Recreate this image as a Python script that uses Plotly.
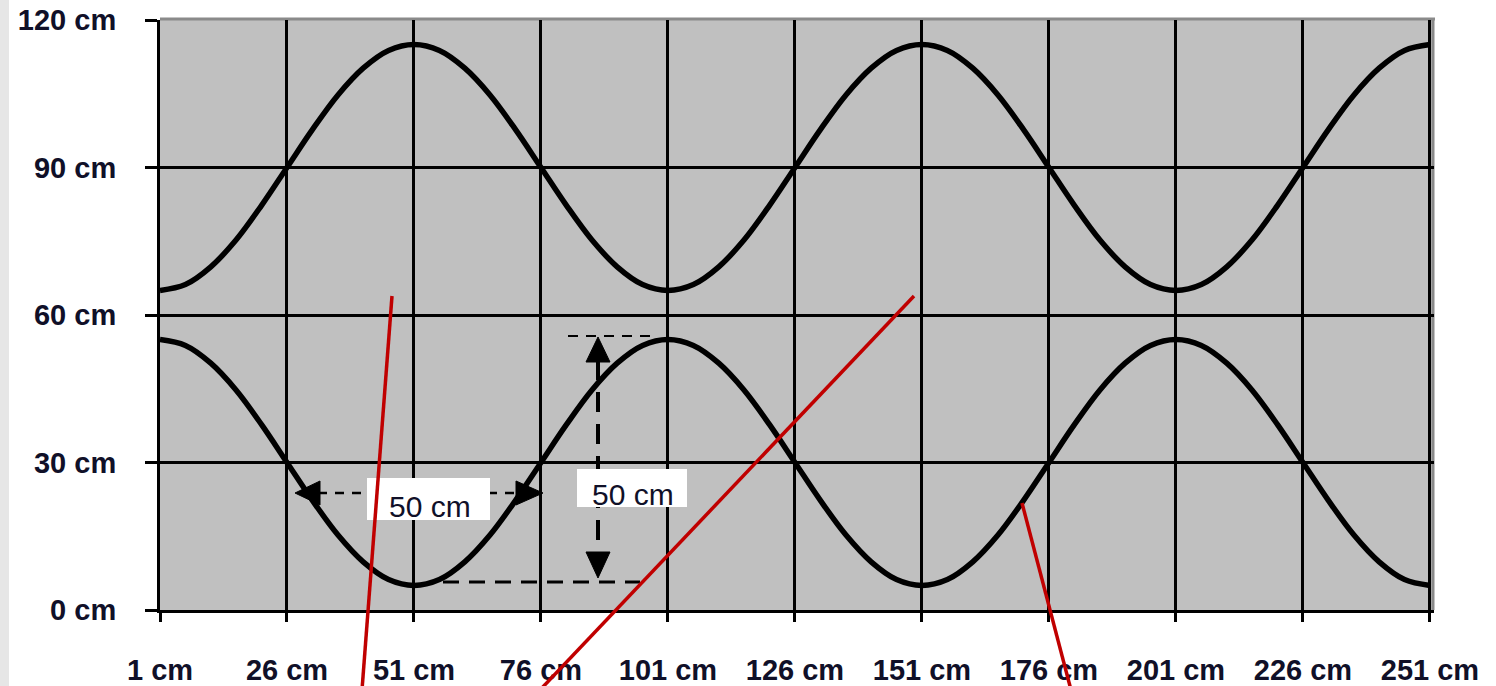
import plotly.graph_objects as go

# ---- data ----
x_cm = [1, 6, 11, 16, 21, 26, 31, 36, 41, 46, 51, 56, 61, 66, 71, 76, 81, 86, 91, 96,
        101, 106, 111, 116, 121, 126, 131, 136, 141, 146, 151, 156, 161, 166, 171, 176,
        181, 186, 191, 196, 201, 206, 211, 216, 221, 226, 231, 236, 241, 246, 251]
upper_wave = [65, 66.2, 69.8, 75.3, 82.3, 90, 97.7, 104.7, 110.2, 113.8,
              115, 113.8, 110.2, 104.7, 97.7, 90, 82.3, 75.3, 69.8, 66.2,
              65, 66.2, 69.8, 75.3, 82.3, 90, 97.7, 104.7, 110.2, 113.8,
              115, 113.8, 110.2, 104.7, 97.7, 90, 82.3, 75.3, 69.8, 66.2,
              65, 66.2, 69.8, 75.3, 82.3, 90, 97.7, 104.7, 110.2, 113.8, 115]
lower_wave = [55, 53.8, 50.2, 44.7, 37.7, 30, 22.3, 15.3, 9.8, 6.2,
              5, 6.2, 9.8, 15.3, 22.3, 30, 37.7, 44.7, 50.2, 53.8,
              55, 53.8, 50.2, 44.7, 37.7, 30, 22.3, 15.3, 9.8, 6.2,
              5, 6.2, 9.8, 15.3, 22.3, 30, 37.7, 44.7, 50.2, 53.8,
              55, 53.8, 50.2, 44.7, 37.7, 30, 22.3, 15.3, 9.8, 6.2, 5]
x_ticks = [1, 26, 51, 76, 101, 126, 151, 176, 201, 226, 251]
x_tick_labels = ["1 cm", "26 cm", "51 cm", "76 cm", "101 cm", "126 cm",
                 "151 cm", "176 cm", "201 cm", "226 cm", "251 cm"]
y_ticks = [0, 30, 60, 90, 120]
y_tick_labels = ["0 cm", "30 cm", "60 cm", "90 cm", "120 cm"]
label_text = "50 cm"

# ---- layout geometry ----
W, H = 1496, 686
L, R, T, B = 160, 62, 20, 76
PW, PH = W - L - R, H - T - B
XMIN, XMAX = 1, 251.8
YMIN, YMAX = 0, 120


def px2x(px):
    return XMIN + (px - L) / PW * (XMAX - XMIN)


def py2y(py):
    return YMIN + (T + PH - py) / PH * (YMAX - YMIN)


def ppx(px):
    return (px - L) / PW


def ppy(py):
    return (T + PH - py) / PH


TXT = "#101028"
fig = go.Figure()
for ys in (upper_wave, lower_wave):
    fig.add_trace(go.Scatter(x=x_cm, y=ys, mode="lines",
                             line=dict(color="black", width=5.5, shape="spline", smoothing=1.0),
                             hoverinfo="skip", showlegend=False, cliponaxis=False))

shapes = []
# light strip on the left edge
shapes.append(dict(type="rect", xref="paper", yref="paper", x0=ppx(0), x1=ppx(9),
                   y0=ppy(H), y1=ppy(0), fillcolor="#e6e6e6", line=dict(width=0), layer="below"))
# gray top/right border of plot
shapes.append(dict(type="line", xref="paper", yref="paper", x0=0, x1=ppx(1435), y0=ppy(19), y1=ppy(19),
                   line=dict(color="#8a8a8a", width=3), layer="below"))
shapes.append(dict(type="line", xref="paper", yref="paper", x0=ppx(1433), x1=ppx(1433), y0=ppy(19), y1=0,
                   line=dict(color="#8a8a8a", width=3), layer="below"))


def dline(x0, y0, x1, y1, w, dash):
    shapes.append(dict(type="line", xref="x", yref="y", x0=px2x(x0), y0=py2y(y0),
                       x1=px2x(x1), y1=py2y(y1), line=dict(color="black", width=w, dash=dash)))


def tri(pts):
    path = "M " + " L ".join(f"{px2x(a)},{py2y(b)}" for a, b in pts) + " Z"
    shapes.append(dict(type="path", xref="x", yref="y", path=path,
                       fillcolor="black", line=dict(color="black", width=1)))


dline(318, 493, 516, 493, 2.5, "9px,8px")
tri([(295, 493), (320, 481), (320, 505)])
tri([(543, 493), (516, 481), (516, 505)])
dline(568, 336, 650, 336, 2, "10px,8px")
dline(443, 582, 640, 582, 3, "16px,10px")
dline(598, 360, 598, 552, 4, "20px,12px")
tri([(598, 337), (586, 362), (610, 362)])
tri([(598, 578), (586, 552), (610, 552)])

# white label boxes
shapes.append(dict(type="rect", xref="x", yref="y", x0=px2x(367), x1=px2x(490),
                   y0=py2y(520), y1=py2y(478), fillcolor="white", line=dict(width=0)))
shapes.append(dict(type="rect", xref="x", yref="y", x0=px2x(577), x1=px2x(687),
                   y0=py2y(507), y1=py2y(469), fillcolor="white", line=dict(width=0)))

# red pointer lines
for (a, b, c, d) in [(392, 296, 362, 690), (914, 296, 540, 690), (1022, 503, 1071, 690)]:
    shapes.append(dict(type="line", xref="paper", yref="paper", x0=ppx(a), y0=ppy(b),
                       x1=ppx(c), y1=ppy(d), line=dict(color="#c00000", width=3.5)))

annotations = [
    dict(x=px2x(430), y=py2y(506), xref="x", yref="y", text=label_text, showarrow=False,
         font=dict(family="Liberation Sans, Arial", size=30, color=TXT)),
    dict(x=px2x(633), y=py2y(494), xref="x", yref="y", text=label_text, showarrow=False,
         font=dict(family="Liberation Sans, Arial", size=30, color=TXT)),
]

fig.update_layout(
    width=W, height=H,
    margin=dict(l=L, r=R, t=T, b=B, pad=0, autoexpand=False),
    paper_bgcolor="white", plot_bgcolor="#c0c0c0",
    shapes=shapes, annotations=annotations, showlegend=False,
    font=dict(family="Liberation Sans, Arial", color=TXT),
)
fig.update_xaxes(range=[XMIN, XMAX], tickvals=x_ticks, ticktext=x_tick_labels,
                 automargin=False,
                 showgrid=True, gridcolor="black", gridwidth=3, zeroline=False,
                 showline=True, linecolor="black", linewidth=3,
                 ticks="outside", ticklen=9, tickwidth=3, tickcolor="black",
                 ticklabelstandoff=23,
                 tickfont=dict(family="Liberation Sans, Arial", size=29, color=TXT, weight="bold"))
fig.update_yaxes(range=[YMIN, YMAX], tickvals=y_ticks, ticktext=y_tick_labels,
                 automargin=False,
                 showgrid=True, gridcolor="black", gridwidth=3, zeroline=False,
                 showline=True, linecolor="black", linewidth=3,
                 ticks="outside", ticklen=12, tickwidth=3, tickcolor="black",
                 ticklabelstandoff=23,
                 tickfont=dict(family="Liberation Sans, Arial", size=29, color=TXT, weight="bold"))

fig.write_html("out.html", config={"displayModeBar": False},
               post_script="document.body.style.margin='0';document.body.style.overflow='hidden';")
